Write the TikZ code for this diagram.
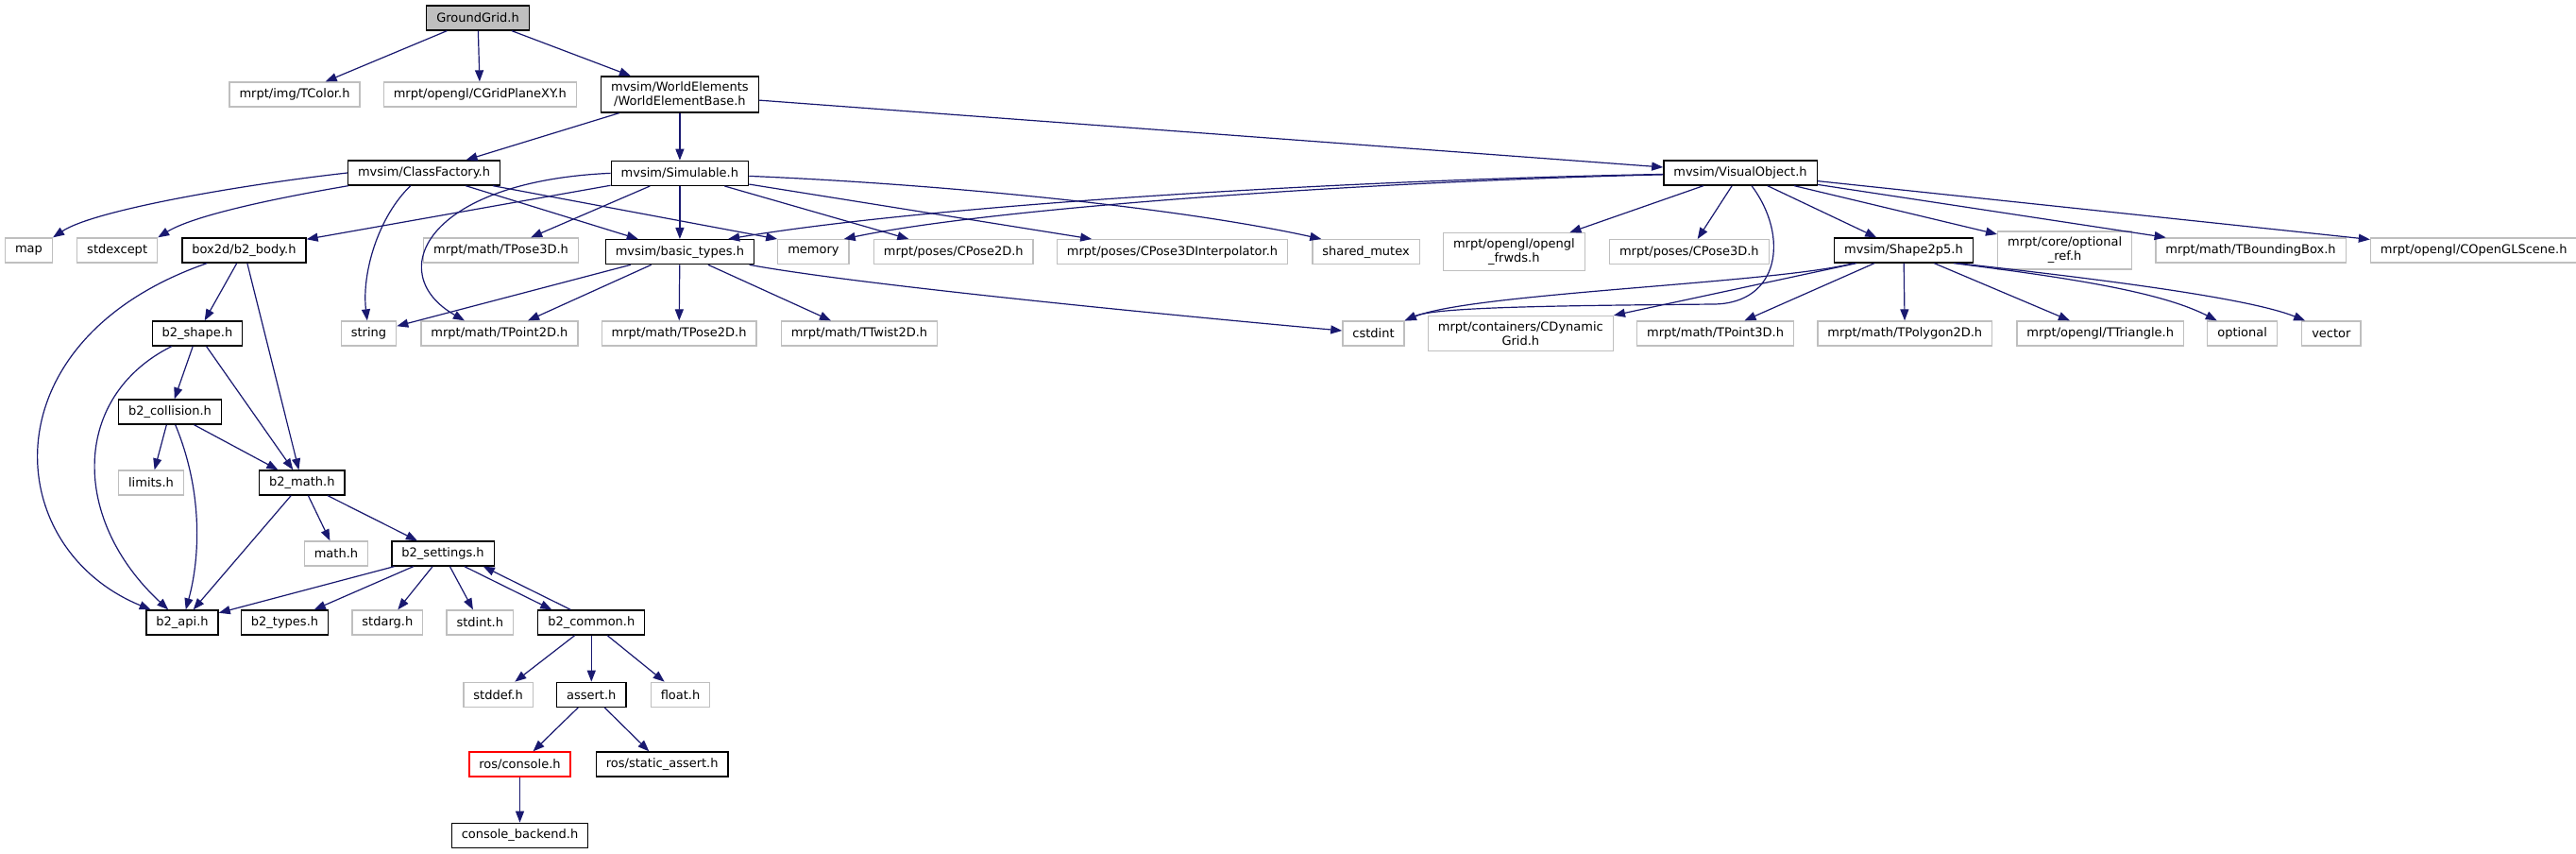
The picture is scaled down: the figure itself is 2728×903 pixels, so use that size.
\documentclass[tikz,border=0pt]{standalone}
\usepackage{fontspec}
\setmainfont{DejaVu Sans}
\usetikzlibrary{positioning,arrows.meta}
\definecolor{EdgeBlue}{RGB}{25,25,112}
\definecolor{ExtGray}{RGB}{191,191,191}
\definecolor{MainGray}{RGB}{191,191,191}
\definecolor{TruncRed}{RGB}{255,0,0}

\begin{document}
\begin{tikzpicture}[
      x=1pt, y=-1pt,
      every node/.style={font=\fontsize{13}{15}\selectfont, align=center},
      hdr/.style={draw, rectangle, minimum height=26pt, inner xsep=10.5pt, inner ysep=6pt, line width=1.3pt},
      doc/.style={hdr, draw=black, fill=white},
      ext/.style={hdr, draw=ExtGray, fill=white},
      main/.style={hdr, draw=black, fill=MainGray},
      trunc/.style={hdr, draw=TruncRed, fill=white},
      arr/.style={-{Triangle[length=12pt,width=9pt]}, draw=EdgeBlue, line width=1.2pt}
  ]
    \path[use as bounding box, fill=white] (0,0) rectangle (2728,903);
    % rank 0 and 1
    \node[main] (gg) at (506,19) {GroundGrid.h};
    \node[ext] (tcolor) at (312,100) {mrpt/img/TColor.h};
    \node[ext, right=24pt of tcolor] (gridxy) {mrpt/opengl/CGridPlaneXY.h};
    \node[doc, right=25pt of gridxy] (web) {mvsim/WorldElements\\/WorldElementBase.h};
    % rank 2
    \node[doc] (cfac) at (449,183) {mvsim/ClassFactory.h};
    \node[doc, below=50pt of web] (simul) {mvsim/Simulable.h};
    \node[doc] (visobj) at (1843,183) {mvsim/VisualObject.h};
    % rank 3
    \node[ext] (map) at (30.5,265) {map};
    \node[ext, right=25pt of map] (stdexcept) {stdexcept};
    \node[doc, right=25pt of stdexcept] (body) {box2d/b2\_body.h};
    \node[ext] (tpose3d) at (530.5,265) {mrpt/math/TPose3D.h};
    \node[doc, below=56pt of simul] (bt) {mvsim/basic\_types.h};
    \node[ext, right=24pt of bt] (memory) {memory};
    \node[ext, right=25pt of memory] (cpose2d) {mrpt/poses/CPose2D.h};
    \node[ext, right=24pt of cpose2d] (interp) {mrpt/poses/CPose3DInterpolator.h};
    \node[ext, right=25pt of interp] (shmutex) {shared\_mutex};
    \node[ext, right=24pt of shmutex] (frwds) {mrpt/opengl/opengl\\\_frwds.h};
    \node[ext, right=25pt of frwds] (cpose3d) {mrpt/poses/CPose3D.h};
    \node[doc] (shape25) at (2016,265) {mvsim/Shape2p5.h};
    \node[ext, right=25pt of shape25] (optref) {mrpt/core/optional\\\_ref.h};
    \node[ext, right=24pt of optref] (tbbox) {mrpt/math/TBoundingBox.h};
    \node[ext, right=25pt of tbbox] (oglscene) {mrpt/opengl/COpenGLScene.h};
    % rank 4
    \node[doc] (bshape) at (209,353) {b2\_shape.h};
    \node[ext] (string) at (390.5,353) {string};
    \node[ext, right=25pt of string] (tpoint2d) {mrpt/math/TPoint2D.h};
    \node[ext, right=24pt of tpoint2d] (tpose2d) {mrpt/math/TPose2D.h};
    \node[ext, right=25pt of tpose2d] (ttwist) {mrpt/math/TTwist2D.h};
    \node[ext] (cstdint) at (1454.5,353) {cstdint};
    \node[ext, right=24pt of cstdint] (cdyn) {mrpt/containers/CDynamic\\Grid.h};
    \node[ext, right=24pt of cdyn] (tpoint3d) {mrpt/math/TPoint3D.h};
    \node[ext, right=24pt of tpoint3d] (tpoly) {mrpt/math/TPolygon2D.h};
    \node[ext, right=25pt of tpoly] (ttri) {mrpt/opengl/TTriangle.h};
    \node[ext, right=24pt of ttri] (optional) {optional};
    \node[ext, right=25pt of optional] (vector) {vector};
    % ranks 5 to 11
    \node[doc] (bcoll) at (180,436) {b2\_collision.h};
    \node[ext] (limits) at (160,511) {limits.h};
    \node[doc, right=79pt of limits] (bmath) {b2\_math.h};
    \node[ext] (mathh) at (356,586) {math.h};
    \node[doc, right=24pt of mathh] (bset) {b2\_settings.h};
    \node[doc] (bapi) at (193,659) {b2\_api.h};
    \node[doc, right=23pt of bapi] (btypes) {b2\_types.h};
    \node[ext, right=24pt of btypes] (stdarg) {stdarg.h};
    \node[ext, right=24pt of stdarg] (stdint) {stdint.h};
    \node[doc, right=25pt of stdint] (bcommon) {b2\_common.h};
    \node[doc, below=49pt of bcommon] (assert) {assert.h};
    \node[ext, left=24pt of assert] (stddef) {stddef.h};
    \node[ext, right=25pt of assert] (float) {float.h};
    \node[trunc] (rcons) at (550.5,809) {ros/console.h};
    \node[doc, right=26pt of rcons] (rsa) {ros/static\_assert.h};
    \node[doc, below=48pt of rcons] (cback) {console\_backend.h};
    % edges from the top
    \draw[arr] (gg) -- (tcolor);
    \draw[arr] (gg) -- (gridxy);
    \draw[arr] (gg) -- (web);
    \draw[arr] (web) -- (cfac);
    \draw[arr] (web) -- (simul);
    \draw[arr] (web) -- (visobj);
    \draw[arr] (cfac.west) .. controls (260,195) and (100,222) .. (map.north east);
    \draw[arr] (cfac) .. controls (320,205) and (210,225) .. (stdexcept.north east);
    \draw[arr] (cfac) .. controls (400,230) and (383,290) .. (string);
    \draw[arr] (cfac) -- (bt);
    \draw[arr] (cfac) -- (memory.north west);
    \draw[arr] (simul) -- (body);
    \draw[arr] (simul) -- (tpose3d);
    \draw[arr] (simul) -- (bt);
    \draw[arr] (simul.west) .. controls (450,192) and (405,290) .. ([xshift=-37pt]tpoint2d.north);
    \draw[arr] (simul) -- (cpose2d);
    \draw[arr] (simul) -- (interp);
    \draw[arr] (simul) .. controls (1000,195) and (1250,220) .. ([xshift=10pt]shmutex.north west);
    \draw[arr] (visobj) .. controls (1450,190) and (1000,215) .. ([xshift=-28pt]bt.north east);
    \draw[arr] (visobj) .. controls (1450,192) and (1050,220) .. ([xshift=-6pt]memory.north east);
    \draw[arr] (visobj) -- (frwds);
    \draw[arr] (visobj) -- (cpose3d);
    \draw[arr] (visobj) -- (shape25);
    \draw[arr] (visobj) -- (optref);
    \draw[arr] (visobj) -- (tbbox);
    \draw[arr] (visobj) -- (oglscene);
    \draw[arr] ([xshift=12pt]visobj.south) .. controls (1895,250) and (1885,321) .. (1815,322)
      .. controls (1650,323.5) and (1520,325) .. (cstdint.north east);
    \draw[arr] ([xshift=-53pt]shape25.south) .. controls (1880,300) and (1560,310) .. (cstdint.north east);
    \draw[arr] ([xshift=-50pt]shape25.south) -- (cdyn.north east);
    \draw[arr] (shape25) -- (tpoint3d);
    \draw[arr] (shape25) -- (tpoly);
    \draw[arr] (shape25) -- (ttri);
    \draw[arr] ([xshift=53pt]shape25.south) .. controls (2200,295) and (2290,310) .. (optional);
    \draw[arr] ([xshift=57pt]shape25.south) .. controls (2220,295) and (2380,315) .. ([xshift=4pt]vector.north west);
    \draw[arr] (bt) -- (string);
    \draw[arr] (bt) -- (tpoint2d);
    \draw[arr] (bt) -- (tpose2d);
    \draw[arr] (bt) -- (ttwist);
    \draw[arr] (bt) .. controls (900,300) and (1200,330) .. (cstdint);
    % box2d part
    \draw[arr] (body) -- (bshape);
    \draw[arr] (body) -- (bmath);
    \draw[arr] (body) .. controls (-15,360) and (0,580) .. (bapi);
    \draw[arr] (bshape) -- (bcoll);
    \draw[arr] (bshape) -- (bmath);
    \draw[arr] (bshape) .. controls (75,420) and (75,550) .. (bapi);
    \draw[arr] (bcoll) -- (limits);
    \draw[arr] (bcoll) -- (bmath);
    \draw[arr] (bcoll) .. controls (215,520) and (212,590) .. (bapi);
    \draw[arr] (bmath) -- (bapi);
    \draw[arr] (bmath) -- (mathh);
    \draw[arr] (bmath) -- (bset);
    \draw[arr] (bset) -- (bapi);
    \draw[arr] (bset) -- (btypes);
    \draw[arr] (bset) -- (stdarg);
    \draw[arr] (bset) -- (stdint);
    \draw[arr] ([xshift=-32pt]bset.south east) -- ([xshift=-42pt]bcommon.north);
    \draw[arr] ([xshift=-22pt]bcommon.north) -- ([xshift=-12pt]bset.south east);
    \draw[arr] (bcommon) -- (stddef);
    \draw[arr] (bcommon) -- (assert);
    \draw[arr] (bcommon) -- (float);
    \draw[arr] (assert) -- (rcons);
    \draw[arr] (assert) -- (rsa);
    \draw[arr] (rcons) -- (cback);
\end{tikzpicture}
\end{document}
